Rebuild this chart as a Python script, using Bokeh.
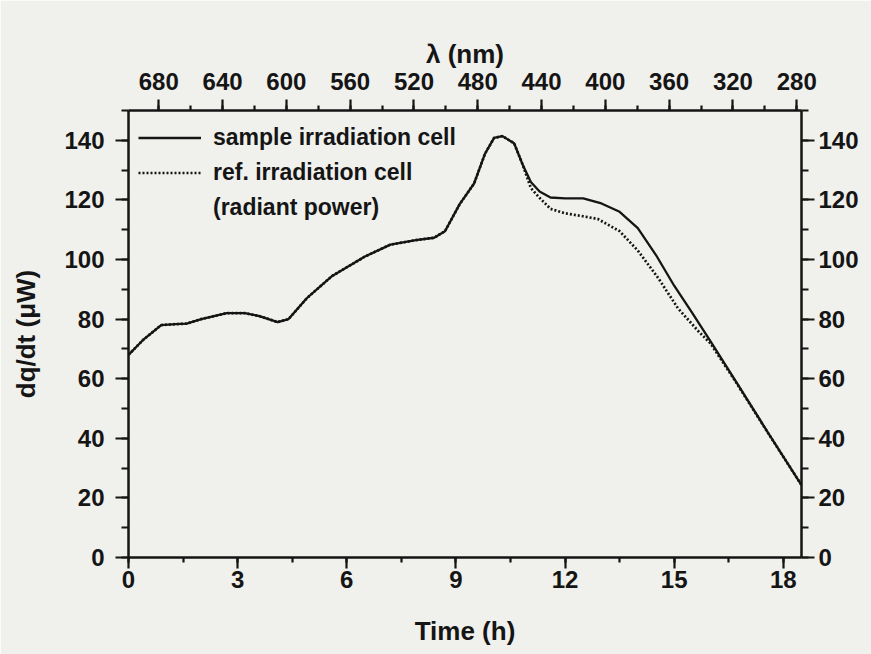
from bokeh.plotting import figure
from bokeh.models import (Range1d, LinearAxis, SingleIntervalTicker, Legend, LegendItem)
from bokeh.embed import file_html
from bokeh.resources import INLINE

# ---------------- data ----------------
sample_t = [0, 0.4, 0.9, 1.3, 1.6, 2.0, 2.7, 3.2, 3.6, 4.1, 4.4, 4.9, 5.6, 6.5, 7.2,
            7.9, 8.4, 8.7, 9.1, 9.5, 9.8, 10.05, 10.28, 10.6, 10.83, 11.06, 11.3,
            11.6, 12.0, 12.5, 13.0, 13.5, 14.0, 14.5, 15.0, 15.5, 16.0, 16.7, 17.6, 18.5]
sample_p = [68, 73, 78, 78.3, 78.5, 80, 82, 82, 81, 79, 80, 87, 94.5, 101, 105,
            106.5, 107.3, 109.5, 118.5, 125.5, 135.5, 140.8, 141.4, 139, 132, 126, 122.8,
            120.8, 120.5, 120.5, 118.8, 116, 110.5, 101.5, 91.2, 82, 72.5, 59, 41.5, 24.3]

ref_t = [0, 0.4, 0.9, 1.3, 1.6, 2.0, 2.7, 3.2, 3.6, 4.1, 4.4, 4.9, 5.6, 6.5, 7.2,
         7.9, 8.4, 8.7, 9.1, 9.5, 9.8, 10.05, 10.28, 10.6, 10.83, 11.06, 11.3,
         11.6, 12.0, 12.45, 12.9, 13.5, 14.0, 14.56, 15.1, 15.66, 16.0, 16.7, 17.6, 18.5]
ref_p = [68, 73, 78, 78.3, 78.5, 80, 82, 82, 81, 79, 80, 87, 94.5, 101, 105,
         106.5, 107.3, 109.5, 118.5, 125.5, 135.5, 140.8, 141.4, 139, 132, 124, 120.7,
         117, 115.5, 114.6, 113.6, 109.5, 103, 93.8, 83.7, 76, 71.8, 58.8, 41.4, 24.3]

time_range = [0, 18.5]
power_range = [0, 150]
wavelength_range = [699, 277]   # top axis (nm), decreasing left to right

legend_labels = ["sample irradiation cell", "ref. irradiation cell", "(radiant power)"]

# ---------------- styling ----------------
PAPER = "#f0f0ec"
INK = "#151515"
FONT = "Liberation Sans"
FSTYLE = "bold"
TICK_FS = "24px"
AXL_FS = "26px"
LEG_FS = "23px"

p = figure(width=871, height=654, output_backend="svg", toolbar_location=None,
           x_range=Range1d(*time_range), y_range=Range1d(*power_range),
           x_axis_location=None, y_axis_location=None,
           min_border_left=128, min_border_right=70, min_border_top=110, min_border_bottom=97)
p.background_fill_color = PAPER
p.border_fill_color = PAPER
p.outline_line_color = None
p.xgrid.visible = False
p.ygrid.visible = False
p.extra_x_ranges = {"lam": Range1d(*wavelength_range)}


def style_axis(ax, tick_in=0, tick_out=12, minor_out=6, standoff=6, label_standoff=20):
    ax.axis_line_color = INK
    ax.axis_line_width = 2.5
    ax.major_tick_line_color = INK
    ax.major_tick_line_width = 2.2
    ax.minor_tick_line_color = INK
    ax.minor_tick_line_width = 2.2
    ax.major_tick_in = tick_in
    ax.major_tick_out = tick_out
    ax.minor_tick_in = 0
    ax.minor_tick_out = minor_out
    ax.major_label_text_font = FONT
    ax.major_label_text_font_size = TICK_FS
    ax.major_label_text_font_style = FSTYLE
    ax.major_label_text_color = INK
    ax.major_label_standoff = standoff
    ax.axis_label_text_font = FONT
    ax.axis_label_text_font_size = AXL_FS
    ax.axis_label_text_font_style = FSTYLE
    ax.axis_label_text_color = INK
    ax.axis_label_standoff = label_standoff


bottom = LinearAxis(axis_label="Time (h)",
                    ticker=SingleIntervalTicker(interval=3, num_minor_ticks=2))
style_axis(bottom, tick_out=11, minor_out=5, standoff=2, label_standoff=25)
p.add_layout(bottom, "below")

top = LinearAxis(axis_label="λ (nm)", x_range_name="lam",
                 ticker=SingleIntervalTicker(interval=40, num_minor_ticks=2))
style_axis(top, tick_out=11, minor_out=5, standoff=10, label_standoff=1)
p.add_layout(top, "above")

left = LinearAxis(axis_label="dq/dt (μW)",
                  ticker=SingleIntervalTicker(interval=20, num_minor_ticks=2))
style_axis(left, tick_out=13, minor_out=7, standoff=11, label_standoff=20)
p.add_layout(left, "left")

right = LinearAxis(ticker=SingleIntervalTicker(interval=20, num_minor_ticks=2))
style_axis(right, tick_out=13, minor_out=7, standoff=4)
p.add_layout(right, "right")

r_sample = p.line(sample_t, sample_p, line_color=INK, line_width=2.3)
r_ref = p.line(ref_t, ref_p, line_color=INK, line_width=2.7, line_dash="2 2")
r_blank = p.line([], [], line_color=INK, line_alpha=0)

legend = Legend(items=[LegendItem(label=legend_labels[0], renderers=[r_sample]),
                       LegendItem(label=legend_labels[1], renderers=[r_ref]),
                       LegendItem(label=legend_labels[2], renderers=[r_blank])],
                location="top_left", margin=10, padding=0, spacing=0,
                glyph_width=63, glyph_height=35, label_height=35, label_standoff=12,
                label_text_font=FONT, label_text_font_size=LEG_FS,
                label_text_font_style=FSTYLE, label_text_color=INK,
                background_fill_alpha=0, border_line_alpha=0)
p.add_layout(legend, "center")

open("out.html", "w").write(file_html(p, INLINE))
